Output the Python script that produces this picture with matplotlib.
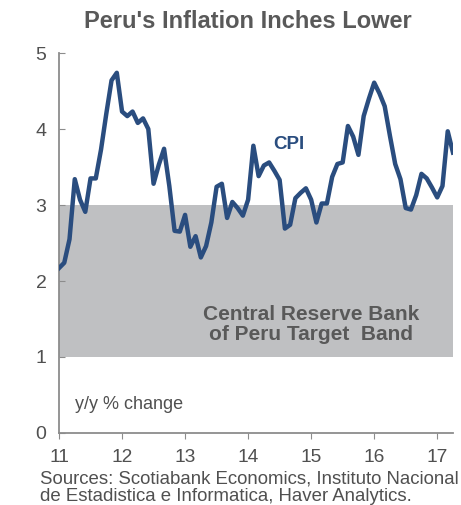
import numpy as np
import matplotlib.pyplot as plt

plt.rcParams['font.family'] = ['Liberation Sans', 'DejaVu Sans']

# Peru CPI, y/y % change, monthly Jan 2011 - Apr 2017
cpi = [
    2.17, 2.24, 2.55, 3.34, 3.07, 2.91, 3.35, 3.35, 3.73, 4.20, 4.64, 4.74,  # 2011
    4.23, 4.17, 4.23, 4.08, 4.14, 4.00, 3.28, 3.53, 3.74, 3.25, 2.66, 2.65,  # 2012
    2.87, 2.45, 2.59, 2.31, 2.46, 2.77, 3.24, 3.28, 2.83, 3.04, 2.96, 2.86,  # 2013
    3.07, 3.78, 3.38, 3.52, 3.56, 3.45, 3.33, 2.69, 2.74, 3.09, 3.16, 3.22,  # 2014
    3.07, 2.77, 3.02, 3.02, 3.37, 3.54, 3.56, 4.04, 3.90, 3.66, 4.17, 4.40,  # 2015
    4.61, 4.47, 4.30, 3.91, 3.54, 3.34, 2.96, 2.94, 3.13, 3.41, 3.35, 3.23,  # 2016
    3.10, 3.25, 3.97, 3.69,                                                  # 2017
]
start_year = 11
band_low, band_high = 1, 3
year_ticks = [11, 12, 13, 14, 15, 16, 17]
y_ticks = [0, 1, 2, 3, 4, 5]

months = start_year + np.arange(len(cpi)) / 12.0

fig = plt.figure(figsize=(4.61, 5.05), dpi=100)
ax = fig.add_axes([0.128, 0.1426, 0.8546, 0.7524])

x_end = months[-1]
ax.fill_between([start_year, x_end], band_low, band_high, color='#bfc0c2', lw=0, zorder=1)
ax.plot(months, cpi, color='#2a4d7f', lw=3.2, solid_joinstyle='round', zorder=3)

ax.set_xlim(start_year, x_end)
ax.set_ylim(0, 5)
ax.set_xticks(year_ticks)
ax.set_yticks(y_ticks)
for s in ['top', 'right']:
    ax.spines[s].set_visible(False)
for s in ['left', 'bottom']:
    ax.spines[s].set_color('#8c8c8c')
    ax.spines[s].set_linewidth(1.3)
ax.tick_params(axis='y', direction='in', length=4, color='#8c8c8c', labelsize=14, labelcolor='#505050', pad=9)
ax.tick_params(axis='x', direction='out', length=4, color='#8c8c8c', labelsize=13.8, labelcolor='#505050', pad=7.5)

ax.text(14.4, 3.79, 'CPI', color='#2a4d7f', fontsize=13.5, fontweight='bold', ha='left', va='center')
ax.text(15.0, 1.43, 'Central Reserve Bank\nof Peru Target  Band', color='#595959', fontsize=15,
        fontweight='bold', ha='center', va='center', linespacing=1.1)
ax.text(11.25, 0.37, 'y/y % change', color='#505050', fontsize=13, ha='left', va='center')

fig.text(0.538, 0.958, "Peru's Inflation Inches Lower", color='#595959', fontsize=17,
         fontweight='bold', ha='center', va='center')
# source note, two lines
fig.text(0.087, 1 - 483 / 505, 'Sources: Scotiabank Economics, Instituto Nacional',
         color='#505050', fontsize=13.4, ha='left', va='baseline')
fig.text(0.087, 1 - 501 / 505, 'de Estadistica e Informatica, Haver Analytics.',
         color='#505050', fontsize=13.4, ha='left', va='baseline')

fig.savefig('out.png', dpi=100)
